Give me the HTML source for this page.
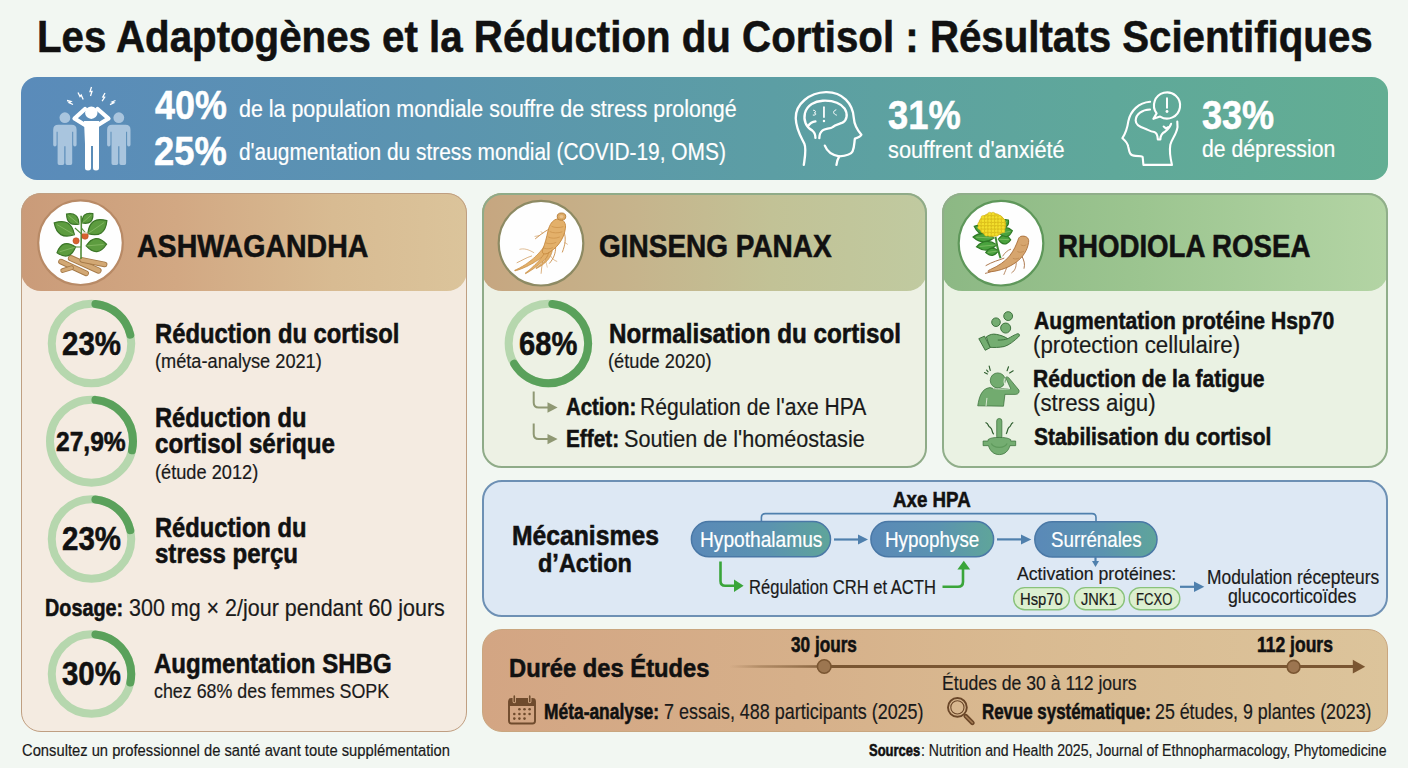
<!DOCTYPE html>
<html><head><meta charset="utf-8"><style>
*{margin:0;padding:0;box-sizing:border-box}
html,body{width:1408px;height:768px;overflow:hidden}
body{background:#f2f7f2;font-family:"Liberation Sans",sans-serif;position:relative}
.t{position:absolute;white-space:nowrap;line-height:1;transform-origin:0 0;font-variant-ligatures:none;-webkit-text-stroke:0.2px currentColor}
.t b{font-weight:700;-webkit-text-stroke:0.55px currentColor}
.box{position:absolute}
.ov{position:absolute;left:0;top:0}
</style></head>
<body>

<div class="box" style="left:20.5px;top:77px;width:1367.5px;height:103px;border-radius:16px;background:linear-gradient(90deg,#5a8bba 0%,#5b94b0 30%,#5c9ea4 55%,#5fa89a 80%,#63ae93 100%)"></div>
<div class="box" style="left:21px;top:193px;width:445.5px;height:539px;border-radius:20px;background:#f4ebe1"></div>
<div class="box" style="left:21px;top:193px;width:445.5px;height:98px;border-radius:20px;background:linear-gradient(90deg,#ca9b79 0%,#d2a883 35%,#d8bb92 70%,#dbc49b 100%)"></div>
<div class="box" style="left:21px;top:193px;width:445.5px;height:539px;border-radius:20px;border:1.8px solid #bf9f82"></div>
<div class="box" style="left:481.5px;top:193px;width:445px;height:275px;border-radius:20px;background:#edf1e4"></div>
<div class="box" style="left:481.5px;top:193px;width:445px;height:98px;border-radius:20px;background:linear-gradient(90deg,#c6a680 0%,#c6b48c 35%,#c2c296 65%,#c0caa0 100%)"></div>
<div class="box" style="left:481.5px;top:193px;width:445px;height:275px;border-radius:20px;border:2px solid #8fab88"></div>
<div class="box" style="left:941.5px;top:193px;width:446px;height:275px;border-radius:20px;background:#eaf2e3"></div>
<div class="box" style="left:941.5px;top:193px;width:446px;height:98px;border-radius:20px;background:linear-gradient(90deg,#8cb884 0%,#9cc590 45%,#abcf9d 80%,#b3d4a4 100%)"></div>
<div class="box" style="left:941.5px;top:193px;width:446px;height:275px;border-radius:20px;border:2px solid #90ae8a"></div>
<div class="box" style="left:481.5px;top:480px;width:906px;height:137px;border-radius:20px;background:#dde8f4;border:2px solid #6d90b4"></div>
<div class="box" style="left:481.5px;top:629px;width:906px;height:103px;border-radius:20px;background:linear-gradient(90deg,#d3a583 0%,#d6b08a 35%,#d9ba91 60%,#dcc49b 100%);border:1.3px solid #c9a67f"></div>

<svg class="ov" width="1408" height="768" viewBox="0 0 1408 768">
<defs>
<linearGradient id="pill" x1="0" x2="1" y1="0" y2="0"><stop offset="0" stop-color="#5a89b8"/><stop offset="0.55" stop-color="#5b93b0"/><stop offset="1" stop-color="#5fa59a"/></linearGradient>
<linearGradient id="tl" x1="0" x2="1"><stop offset="0" stop-color="#85603a" stop-opacity="0"/><stop offset="0.35" stop-color="#85603a" stop-opacity="0.45"/><stop offset="1" stop-color="#7a5632" stop-opacity="0.8"/></linearGradient>
</defs>
<!-- circles for illustrations -->
<circle cx="80.5" cy="242.7" r="42.3" fill="#fefefe" stroke="#b88a66" stroke-width="2.2"/>
<circle cx="541" cy="243.2" r="42.3" fill="#fefefe" stroke="#8d8a63" stroke-width="2.2"/>
<circle cx="1001" cy="243.2" r="42.3" fill="#fefefe" stroke="#5e975a" stroke-width="2.2"/>
<svg x="38" y="200" width="86" height="86" viewBox="0 0 768 768"><line x1="205" y1="550" x2="430" y2="655" stroke="#a67a48" stroke-width="50" stroke-linecap="round"/><line x1="205" y1="550" x2="430" y2="655" stroke="#d2a874" stroke-width="34" stroke-linecap="round"/><line x1="220" y1="630" x2="300" y2="605" stroke="#a67a48" stroke-width="42" stroke-linecap="round"/><line x1="220" y1="630" x2="300" y2="605" stroke="#d2a874" stroke-width="26" stroke-linecap="round"/><line x1="295" y1="520" x2="540" y2="630" stroke="#a67a48" stroke-width="56" stroke-linecap="round"/><line x1="295" y1="520" x2="540" y2="630" stroke="#d2a874" stroke-width="40" stroke-linecap="round"/><line x1="395" y1="535" x2="595" y2="575" stroke="#a67a48" stroke-width="50" stroke-linecap="round"/><line x1="395" y1="535" x2="595" y2="575" stroke="#d2a874" stroke-width="34" stroke-linecap="round"/><path d="M385,525 C380,430 392,330 385,140" stroke="#4f8a35" stroke-width="14" fill="none"/><path d="M385,420 L330,420 M385,300 L330,250 M388,250 L430,300" stroke="#4f8a35" stroke-width="10" fill="none"/><path d="M365,215 Q363,105 255,125 Q257,235 365,215Z" fill="#5d9c3f" stroke="#3b7527" stroke-width="11"/><path d="M365,215 L272,138" stroke="#9cc97a" stroke-width="5" fill="none"/><path d="M395,205 Q495,224 490,122 Q390,103 395,205Z" fill="#5d9c3f" stroke="#3b7527" stroke-width="11"/><path d="M395,205 L476,134" stroke="#9cc97a" stroke-width="5" fill="none"/><path d="M325,310 Q295,154 145,205 Q175,361 325,310Z" fill="#5d9c3f" stroke="#3b7527" stroke-width="11"/><path d="M325,310 L172,221" stroke="#9cc97a" stroke-width="5" fill="none"/><path d="M445,300 Q599,345 615,185 Q461,140 445,300Z" fill="#5d9c3f" stroke="#3b7527" stroke-width="11"/><path d="M445,300 L590,202" stroke="#9cc97a" stroke-width="5" fill="none"/><path d="M335,420 Q221,340 170,470 Q284,550 335,420Z" fill="#5d9c3f" stroke="#3b7527" stroke-width="11"/><path d="M335,420 L195,462" stroke="#9cc97a" stroke-width="5" fill="none"/><path d="M430,410 Q531,518 612,395 Q511,287 430,410Z" fill="#5d9c3f" stroke="#3b7527" stroke-width="11"/><path d="M430,410 L585,397" stroke="#9cc97a" stroke-width="5" fill="none"/><circle cx="340" cy="365" r="28" fill="#d8612e" stroke="#b54a20" stroke-width="5"/><circle cx="420" cy="322" r="29" fill="#d8612e" stroke="#b54a20" stroke-width="5"/><path d="M395,300 l25,-15 l25,15" fill="#f4f4e8" stroke="#c9c9b0" stroke-width="4"/></svg>
<svg x="498" y="200" width="86" height="86" viewBox="0 0 768 768"><g fill="none" stroke="#c88b45" stroke-linecap="round"><path d="M470,255 C430,270 390,300 335,345" stroke-width="8"/><path d="M370,318 L330,325 M400,298 L385,282" stroke-width="5"/><path d="M590,290 C610,340 600,400 575,465" stroke-width="8"/><path d="M597,380 L620,395" stroke-width="5"/><path d="M515,420 C515,480 495,525 460,565" stroke-width="8"/><path d="M400,540 C392,580 388,620 385,655" stroke-width="6"/><path d="M300,500 C250,515 215,540 170,560" stroke-width="6"/><path d="M320,470 C270,440 230,430 195,440" stroke-width="5"/><path d="M470,500 C480,520 500,540 525,548" stroke-width="5"/><path d="M360,560 L330,600 M420,520 L440,600" stroke-width="4"/></g><path d="M407,420 L402,429 L396,437 L389,445 L382,454 L375,463 L366,472 L358,482 L348,491 L339,500 L328,510 L318,520 L307,529 L295,539 L283,548 L271,557 L259,566 L246,575 L233,583 L219,592 L206,599 L192,607 L178,614 L164,621 L149,627 L151,633 L166,629 L182,624 L197,619 L212,613 L227,607 L242,600 L257,594 L271,587 L285,579 L299,572 L313,564 L326,556 L339,548 L351,540 L364,531 L375,523 L387,515 L398,507 L408,498 L418,490 L428,482 L437,474 L445,467 L453,460Z" fill="#e3b06a" stroke="#c4863c" stroke-width="6" stroke-linejoin="round"/><path d="M429,440 L426,449 L423,457 L419,466 L414,475 L409,484 L403,493 L397,502 L390,511 L383,521 L375,530 L367,539 L359,549 L350,558 L342,567 L332,576 L323,586 L313,594 L304,603 L294,612 L284,620 L274,629 L264,637 L254,645 L243,652 L247,658 L258,651 L269,645 L280,638 L291,631 L303,623 L314,616 L325,608 L335,600 L346,592 L357,584 L367,576 L377,567 L387,559 L397,550 L406,542 L415,533 L423,524 L432,515 L439,506 L447,497 L454,487 L460,478 L466,469 L471,460Z" fill="#e3b06a" stroke="#c4863c" stroke-width="6" stroke-linejoin="round"/><path d="M455,448 L454,456 L453,464 L452,471 L450,479 L447,486 L445,494 L442,501 L438,508 L434,515 L430,522 L426,529 L421,536 L416,542 L410,549 L404,555 L398,561 L392,567 L385,574 L378,579 L371,585 L363,591 L355,597 L347,602 L339,608 L341,612 L350,608 L359,603 L368,598 L376,593 L384,588 L392,582 L400,577 L407,571 L414,565 L421,560 L428,553 L434,547 L440,540 L446,534 L452,527 L457,519 L462,512 L466,504 L470,496 L474,488 L477,479 L480,470 L483,461 L485,452Z" fill="#e3b06a" stroke="#c4863c" stroke-width="6" stroke-linejoin="round"/><path d="M520,172 C562,158 612,190 602,252 C596,302 578,345 545,390 C515,430 480,455 440,478 C400,490 390,470 400,440 C420,390 435,330 448,270 C462,218 486,183 520,172Z" fill="#e3b06a" stroke="#c4863c" stroke-width="8"/><path d="M478,235 C505,248 545,250 585,238 M462,282 C492,296 535,298 575,284 M448,330 C478,345 515,345 552,330 M425,382 C455,395 490,392 520,378 M410,430 C440,440 470,436 490,425" stroke="#c98f48" stroke-width="6" fill="none"/><ellipse cx="567" cy="148" rx="38" ry="32" fill="#dcaa66" stroke="#b27a36" stroke-width="8"/><ellipse cx="567" cy="148" rx="18" ry="14" fill="#eac08a"/></svg>
<svg x="958" y="200" width="86" height="86" viewBox="0 0 768 768"><g fill="none" stroke="#a4693a" stroke-linecap="round"><path d="M410,520 C360,540 310,550 250,585" stroke-width="8"/><path d="M440,590 C430,620 420,640 410,665" stroke-width="7"/><path d="M520,560 C520,600 510,630 480,650" stroke-width="7"/><path d="M570,500 C590,540 600,570 590,610" stroke-width="8"/><path d="M470,440 C440,450 420,470 400,500" stroke-width="7"/><path d="M330,620 C300,640 270,650 245,655" stroke-width="8"/></g><path d="M560,325 C600,315 640,335 630,380 C620,450 580,510 520,555 C460,600 380,630 300,640 C260,645 255,635 290,620 C360,590 420,550 460,500 C500,450 520,400 535,360 C540,340 548,330 560,325Z" fill="#d6a56e" stroke="#a86e3a" stroke-width="8"/><path d="M560,400 C575,410 595,410 610,400 M530,460 C548,470 570,468 588,458 M490,520 C505,530 525,528 545,518" stroke="#b8834a" stroke-width="6" fill="none"/><path d="M335,330 C345,400 360,460 380,520" stroke="#3f8a32" stroke-width="18" fill="none"/><path d="M300,300 Q253,194 145,235 Q192,341 300,300Z" fill="#4aa33e" stroke="#2f7a26" stroke-width="11"/><path d="M300,300 L168,245" stroke="#9cc97a" stroke-width="5" fill="none"/><path d="M320,340 Q232,259 135,330 Q223,411 320,340Z" fill="#4aa33e" stroke="#2f7a26" stroke-width="11"/><path d="M320,340 L163,332" stroke="#9cc97a" stroke-width="5" fill="none"/><path d="M345,400 Q247,333 165,418 Q263,485 345,400Z" fill="#4aa33e" stroke="#2f7a26" stroke-width="11"/><path d="M345,400 L192,415" stroke="#9cc97a" stroke-width="5" fill="none"/><path d="M360,455 Q296,399 248,470 Q312,526 360,455Z" fill="#4aa33e" stroke="#2f7a26" stroke-width="11"/><path d="M360,455 L265,468" stroke="#9cc97a" stroke-width="5" fill="none"/><path d="M360,350 Q411,432 470,355 Q419,273 360,350Z" fill="#4aa33e" stroke="#2f7a26" stroke-width="11"/><path d="M360,350 L454,354" stroke="#9cc97a" stroke-width="5" fill="none"/><path d="M370,300 Q444,366 485,275 Q411,209 370,300Z" fill="#4aa33e" stroke="#2f7a26" stroke-width="11"/><path d="M370,300 L468,279" stroke="#9cc97a" stroke-width="5" fill="none"/><path d="M390,230 Q461,254 450,180 Q379,156 390,230Z" fill="#4aa33e" stroke="#2f7a26" stroke-width="11"/><path d="M390,230 L441,188" stroke="#9cc97a" stroke-width="5" fill="none"/><ellipse cx="305" cy="222" rx="122" ry="104" fill="#efd425" stroke="#c9aa1a" stroke-width="6"/><circle cx="193" cy="216" r="17" fill="#f3df2c" stroke="#c8a914" stroke-width="4"/><circle cx="193" cy="246" r="17" fill="#f3df2c" stroke="#c8a914" stroke-width="4"/><circle cx="223" cy="156" r="17" fill="#f3df2c" stroke="#c8a914" stroke-width="4"/><circle cx="223" cy="186" r="17" fill="#f3df2c" stroke="#c8a914" stroke-width="4"/><circle cx="223" cy="216" r="17" fill="#f3df2c" stroke="#c8a914" stroke-width="4"/><circle cx="223" cy="246" r="17" fill="#f3df2c" stroke="#c8a914" stroke-width="4"/><circle cx="223" cy="276" r="17" fill="#f3df2c" stroke="#c8a914" stroke-width="4"/><circle cx="253" cy="156" r="17" fill="#f3df2c" stroke="#c8a914" stroke-width="4"/><circle cx="253" cy="186" r="17" fill="#f3df2c" stroke="#c8a914" stroke-width="4"/><circle cx="253" cy="216" r="17" fill="#f3df2c" stroke="#c8a914" stroke-width="4"/><circle cx="253" cy="246" r="17" fill="#f3df2c" stroke="#c8a914" stroke-width="4"/><circle cx="253" cy="276" r="17" fill="#f3df2c" stroke="#c8a914" stroke-width="4"/><circle cx="253" cy="306" r="17" fill="#f3df2c" stroke="#c8a914" stroke-width="4"/><circle cx="283" cy="126" r="17" fill="#f3df2c" stroke="#c8a914" stroke-width="4"/><circle cx="283" cy="156" r="17" fill="#f3df2c" stroke="#c8a914" stroke-width="4"/><circle cx="283" cy="186" r="17" fill="#f3df2c" stroke="#c8a914" stroke-width="4"/><circle cx="283" cy="216" r="17" fill="#f3df2c" stroke="#c8a914" stroke-width="4"/><circle cx="283" cy="246" r="17" fill="#f3df2c" stroke="#c8a914" stroke-width="4"/><circle cx="283" cy="276" r="17" fill="#f3df2c" stroke="#c8a914" stroke-width="4"/><circle cx="283" cy="306" r="17" fill="#f3df2c" stroke="#c8a914" stroke-width="4"/><circle cx="313" cy="126" r="17" fill="#f3df2c" stroke="#c8a914" stroke-width="4"/><circle cx="313" cy="156" r="17" fill="#f3df2c" stroke="#c8a914" stroke-width="4"/><circle cx="313" cy="186" r="17" fill="#f3df2c" stroke="#c8a914" stroke-width="4"/><circle cx="313" cy="216" r="17" fill="#f3df2c" stroke="#c8a914" stroke-width="4"/><circle cx="313" cy="246" r="17" fill="#f3df2c" stroke="#c8a914" stroke-width="4"/><circle cx="313" cy="276" r="17" fill="#f3df2c" stroke="#c8a914" stroke-width="4"/><circle cx="313" cy="306" r="17" fill="#f3df2c" stroke="#c8a914" stroke-width="4"/><circle cx="343" cy="156" r="17" fill="#f3df2c" stroke="#c8a914" stroke-width="4"/><circle cx="343" cy="186" r="17" fill="#f3df2c" stroke="#c8a914" stroke-width="4"/><circle cx="343" cy="216" r="17" fill="#f3df2c" stroke="#c8a914" stroke-width="4"/><circle cx="343" cy="246" r="17" fill="#f3df2c" stroke="#c8a914" stroke-width="4"/><circle cx="343" cy="276" r="17" fill="#f3df2c" stroke="#c8a914" stroke-width="4"/><circle cx="343" cy="306" r="17" fill="#f3df2c" stroke="#c8a914" stroke-width="4"/><circle cx="373" cy="156" r="17" fill="#f3df2c" stroke="#c8a914" stroke-width="4"/><circle cx="373" cy="186" r="17" fill="#f3df2c" stroke="#c8a914" stroke-width="4"/><circle cx="373" cy="216" r="17" fill="#f3df2c" stroke="#c8a914" stroke-width="4"/><circle cx="373" cy="246" r="17" fill="#f3df2c" stroke="#c8a914" stroke-width="4"/><circle cx="373" cy="276" r="17" fill="#f3df2c" stroke="#c8a914" stroke-width="4"/><circle cx="403" cy="186" r="17" fill="#f3df2c" stroke="#c8a914" stroke-width="4"/><circle cx="403" cy="216" r="17" fill="#f3df2c" stroke="#c8a914" stroke-width="4"/><circle cx="403" cy="246" r="17" fill="#f3df2c" stroke="#c8a914" stroke-width="4"/><circle cx="403" cy="276" r="17" fill="#f3df2c" stroke="#c8a914" stroke-width="4"/></svg>
<!-- rings -->
<circle cx="91.5" cy="343.5" r="39.75" fill="none" stroke="#b6d7ae" stroke-width="8"/><circle cx="91.5" cy="343.5" r="39.75" fill="none" stroke="#5aa15b" stroke-width="8" stroke-linecap="round" stroke-dasharray="49.44 249.76" stroke-dashoffset="-4.00" transform="rotate(-90 91.5 343.5)"/>
<circle cx="91.5" cy="441.2" r="41.5" fill="none" stroke="#b6d7ae" stroke-width="8"/><circle cx="91.5" cy="441.2" r="41.5" fill="none" stroke="#5aa15b" stroke-width="8" stroke-linecap="round" stroke-dasharray="70.23 260.75" stroke-dashoffset="-4.00" transform="rotate(-90 91.5 441.2)"/>
<circle cx="91.5" cy="539" r="39.75" fill="none" stroke="#b6d7ae" stroke-width="8"/><circle cx="91.5" cy="539" r="39.75" fill="none" stroke="#5aa15b" stroke-width="8" stroke-linecap="round" stroke-dasharray="49.44 249.76" stroke-dashoffset="-4.00" transform="rotate(-90 91.5 539)"/>
<circle cx="91.5" cy="674" r="39.75" fill="none" stroke="#b6d7ae" stroke-width="8"/><circle cx="91.5" cy="674" r="39.75" fill="none" stroke="#5aa15b" stroke-width="8" stroke-linecap="round" stroke-dasharray="66.93 249.76" stroke-dashoffset="-4.00" transform="rotate(-90 91.5 674)"/>
<circle cx="548.4" cy="343.5" r="39.75" fill="none" stroke="#b6d7ae" stroke-width="8"/><circle cx="548.4" cy="343.5" r="39.75" fill="none" stroke="#5aa15b" stroke-width="8" stroke-linecap="round" stroke-dasharray="161.83 249.76" stroke-dashoffset="-4.00" transform="rotate(-90 548.4 343.5)"/>
<!-- ginseng arrows -->
<g stroke="#8f9873" stroke-width="2" fill="none"><path d="M533.7,391.5 V402.4 q0,5 5,5 H549"/><path d="M533.7,423.5 V434.1 q0,5 5,5 H549"/></g>
<g fill="#8f9873"><path d="M547.5,402.3 L557.6,407.5 L547.5,412.7Z"/><path d="M547.5,433.9 L557.6,439.1 L547.5,444.2Z"/></g>
<!-- banner icons -->
<g fill="#a9c5de"><circle cx="64.9" cy="117.7" r="5.4"/><path d="M53.2,129.8 q0,-5 5,-5 h13.4 q5,0 5,5 v15 q0,1.8 -1.7,1.8 q-1.7,0 -1.7,-1.8 v-13 h-1 v31.5 q0,1.6 -1.6,1.6 h-3.5 q-1.6,0 -1.6,-1.6 v-17 h-1.2 v17 q0,1.6 -1.6,1.6 h-3.5 q-1.6,0 -1.6,-1.6 v-31.5 h-1 v13 q0,1.8 -1.7,1.8 q-1.7,0 -1.7,-1.8 z"/></g><g fill="#a9c5de"><circle cx="118.8" cy="117.7" r="5.4"/><path d="M107.1,129.8 q0,-5 5,-5 h13.4 q5,0 5,5 v15 q0,1.8 -1.7,1.8 q-1.7,0 -1.7,-1.8 v-13 h-1 v31.5 q0,1.6 -1.6,1.6 h-3.5 q-1.6,0 -1.6,-1.6 v-17 h-1.2 v17 q0,1.6 -1.6,1.6 h-3.5 q-1.6,0 -1.6,-1.6 v-31.5 h-1 v13 q0,1.8 -1.7,1.8 q-1.7,0 -1.7,-1.8 z"/></g><circle cx="91.3" cy="112.7" r="6.2" fill="#fff"/><path d="M84,121 h15 l0,23 v24 q0,2.5 -3,2.5 q-3,0 -3,-2.5 v-22 h-2 v22 q0,2.5 -3,2.5 q-3,0 -3,-2.5 v-24z" fill="#fff"/><path d="M85,109 L74.5,118.5 L85,125 M97.6,109 L108.5,118.5 L98,125" stroke="#fff" stroke-width="4.2" stroke-linecap="round" stroke-linejoin="round" fill="none"/><g stroke="#fff" stroke-width="1.3" fill="none" stroke-linejoin="miter"><path d="M67,100.5 l4,1 l-2,1.2 l4,1.8"/><path d="M78,92.5 l2,4 l1.2,-1.5 l2,4.5"/><path d="M91.5,87 l-1.5,4.5 l2,0 l-1.5,4.5"/><path d="M105,93 l-2.2,4 l1.8,0.3 l-2.5,3.8"/><path d="M115.5,100.5 l-3.5,1.5 l1.8,0.8 l-3.8,1.8"/></g>
<svg x="785" y="85" width="85" height="85" viewBox="0 0 768 768"><g fill="none" stroke="#fff" stroke-width="21" stroke-linecap="round" stroke-linejoin="round"><path d="M170,722 C180,650 195,580 175,530 C140,460 100,400 97,300 C95,170 220,70 370,65 C520,62 615,170 622,300 C625,350 640,390 690,450 C680,470 650,480 632,485 C625,510 630,560 610,600 C595,630 540,640 490,645 C470,680 468,700 465,722"/><path d="M360,548 C380,600 430,635 490,645"/><path d="M275,478 C275,450 270,430 245,410 C190,380 165,320 180,255 C200,180 270,145 340,142 C420,138 500,160 540,215 C570,260 560,320 520,340 C480,355 450,360 430,380 C410,395 360,395 340,410 C315,430 310,460 310,480"/><path d="M210,370 C225,345 250,330 275,328"/><path d="M352,200 L352,290" stroke-width="16"/><path d="M258,228 C280,228 282,250 265,252 C285,255 285,275 255,272" stroke-width="9"/><path d="M460,225 C430,235 430,260 465,272" stroke-width="9"/></g><circle cx="352" cy="325" r="11" fill="#fff"/></svg>
<svg x="1110" y="85" width="85" height="85" viewBox="0 0 768 768"><g fill="none" stroke="#fff" stroke-width="19" stroke-linecap="round" stroke-linejoin="round"><path d="M362,152 C260,160 185,230 165,330 C158,380 150,420 112,480 C140,505 160,520 165,560 C175,610 180,640 230,640 C260,640 290,640 295,650 L302,722 L560,722 C545,660 535,600 545,540 C555,490 600,450 610,380 L608,330"/><path d="M362,222 C290,225 235,260 232,320 C232,370 290,385 320,395 C345,405 365,420 400,425 C420,430 430,460 432,492 L455,492 C455,460 470,435 500,420 C525,400 545,375 552,350"/><path d="M485,375 L505,392 L525,380"/><path d="M452.8,285.3 A118,118 0 1 0 421.2,256.5 L392,306 Z"/><path d="M515,120 L515,205" stroke-width="18"/></g><circle cx="515" cy="240" r="13" fill="#fff"/></svg>
<!-- rhodiola icons -->
<svg x="972" y="305" width="55" height="55" viewBox="0 0 768 768"><g fill="#74ad71" stroke="#386d38" stroke-width="13" stroke-linejoin="round"><circle cx="505" cy="155" r="62"/><circle cx="335" cy="240" r="60"/><circle cx="470" cy="322" r="70"/><path d="M200,445 C250,410 290,400 340,410 C400,420 450,440 500,470 C540,450 600,410 640,400 C665,400 670,430 650,445 C590,500 520,560 450,580 C380,595 300,595 250,590 Z"/><path d="M95,470 L175,435 L255,595 L185,632 Z"/><path d="M360,490 C420,490 460,485 500,470" fill="none"/></g></svg>
<svg x="972" y="360" width="55" height="55" viewBox="0 0 768 768"><g fill="#72ab6f" stroke="#386d38" stroke-width="10" stroke-linejoin="round"><circle cx="360" cy="285" r="105"/><path d="M80,640 C100,520 130,400 250,385 C300,400 350,410 420,400 C470,400 520,410 540,400 L470,245 C480,230 500,235 515,250 L655,420 C665,445 650,480 610,480 L460,480 L440,645 Z"/></g><g stroke="#e9f1e2" fill="none" stroke-linecap="round"><path d="M452,262 C440,310 455,365 525,400" stroke-width="14"/><path d="M300,398 C340,408 420,410 520,405" stroke-width="10"/><path d="M208,535 L196,640" stroke-width="12"/></g><g stroke="#2f5f2f" stroke-width="16" stroke-linecap="round" fill="none"><path d="M175,175 L215,195 M205,140 L225,165 M240,85 L255,145"/><path d="M510,95 L490,150 M575,150 L525,180"/></g></svg>
<svg x="972" y="412" width="55" height="55" viewBox="0 0 768 768"><g fill="#74ad71" stroke="#386d38" stroke-width="10" stroke-linejoin="round"><rect x="345" y="90" width="72" height="290" rx="36"/><path d="M225,385 C260,360 310,355 380,355 C450,355 500,360 540,385 L540,405 L610,405 L610,470 L530,470 C510,540 460,595 380,595 C300,595 250,540 230,470 L155,470 L155,405 L225,405 Z"/><path d="M270,440 C300,510 460,510 490,440" fill="none" stroke="#5f9a5c" stroke-width="18"/></g><g stroke="#2f5f2f" stroke-width="17" stroke-linecap="round" fill="none"><path d="M195,150 C240,170 215,195 255,215 C290,240 270,270 300,305"/><path d="M570,150 C530,170 555,195 515,215 C490,240 500,270 480,300"/></g></svg>
<!-- mechanisms diagram -->
<path d="M761.4,521.6 V517.6 q0,-4 4,-4 H1092 q4,0 4,4 V521.8" stroke="#4f80ad" stroke-width="1.6" fill="none"/>
<rect x="691.4" y="521.6" width="139.1" height="35.2" rx="17.6" fill="url(#pill)" stroke="#4a78a6" stroke-width="1.5"/>
<rect x="870.9" y="521.6" width="122.7" height="35.2" rx="17.6" fill="url(#pill)" stroke="#4a78a6" stroke-width="1.5"/>
<rect x="1034.8" y="521.8" width="122.2" height="35.2" rx="17.6" fill="url(#pill)" stroke="#4a78a6" stroke-width="1.5"/>
<g stroke="#4f80ad" stroke-width="2.2" fill="none"><path d="M834,539.5 H860"/><path d="M997,539.4 H1022"/><path d="M1180,586.8 H1196"/><path d="M1095.5,557 V562"/></g>
<g fill="#4f80ad"><path d="M858,534.5 L868,539.5 L858,544.5Z"/><path d="M1021,534.4 L1031.3,539.4 L1021,544.4Z"/><path d="M1194,581.5 L1204.3,586.8 L1194,592Z"/><path d="M1092,561 L1095.5,567 L1099,561Z"/></g>
<g stroke="#3aa53a" stroke-width="2.6" fill="none" stroke-linejoin="round"><path d="M720.5,561.4 V581 q0,4.7 4.7,4.7 H735"/><path d="M942.5,586.8 H958 q5,0 5,-5 V568"/></g>
<g fill="#3aa53a"><path d="M734,579.5 L743.6,585.7 L734,592Z"/><path d="M957.4,569.5 L963.8,560.7 L970.2,569.5Z"/></g>
<g fill="#dcefd0" stroke="#89c27a" stroke-width="1.4">
<rect x="1013.7" y="587.6" width="55.7" height="22.1" rx="11"/>
<rect x="1074.4" y="587.6" width="50" height="22.1" rx="11"/>
<rect x="1129.2" y="587.6" width="50.6" height="22.1" rx="11"/>
</g>
<!-- duration timeline -->
<rect x="729.5" y="665.2" width="90" height="2.6" fill="url(#tl)"/>
<path d="M824.3,666.6 H1356" stroke="#7a5632" stroke-width="3"/>
<path d="M1352.8,659.8 L1365.2,666.7 L1352.8,673.5Z" fill="#7a5632"/>
<circle cx="824.2" cy="666.5" r="6.8" fill="#9c7650" stroke="#7a5632" stroke-width="1.6"/>
<circle cx="1293.6" cy="666.8" r="6.4" fill="#9c7550" stroke="#7a5632" stroke-width="1.6"/>
<g fill="none" stroke="#6f4b2d" stroke-width="1.9"><rect x="509" y="699" width="26" height="24.5" rx="2.5"/></g><path d="M509,706 V701.5 q0,-2.5 2.5,-2.5 h21 q2.5,0 2.5,2.5 V706Z" fill="#6f4b2d"/><g stroke="#d9b08c" stroke-width="3.4" stroke-linecap="round"><path d="M514.3,696.5 v5 M529.7,696.5 v5"/></g><g stroke="#6f4b2d" stroke-width="1.7" stroke-linecap="round"><path d="M514.3,696 v5.5 M529.7,696 v5.5"/></g><g fill="#6f4b2d"><circle cx="519.4" cy="709.3" r="1.3"/><circle cx="524.5" cy="709.3" r="1.3"/><circle cx="529.6" cy="709.3" r="1.3"/><circle cx="514.3" cy="714" r="1.3"/><circle cx="519.4" cy="714" r="1.3"/><circle cx="524.5" cy="714" r="1.3"/><circle cx="529.6" cy="714" r="1.3"/><circle cx="514.3" cy="718.6" r="1.3"/><circle cx="519.4" cy="718.6" r="1.3"/><circle cx="524.5" cy="718.6" r="1.3"/></g>
<g fill="none" stroke="#6a4628"><circle cx="957.4" cy="707.4" r="9.4" stroke-width="1.9"/><circle cx="957.4" cy="707.4" r="6.6" stroke-width="1.1"/><path d="M965.8,716.2 L972.4,722.8" stroke-width="4.6" stroke-linecap="round"/><path d="M965.8,716.2 L972.4,722.8" stroke-width="1.6" stroke-linecap="round" stroke="#a57d55"/></g>
</svg>
<div class="t" style="left:36.81px;top:15.65px;font-size:43.53px;color:#111111;transform:scaleX(0.9248)"><b>Les Adaptogènes et la Réduction du Cortisol : Résultats Scientifiques</b></div>
<div class="t" style="left:154.84px;top:85.72px;font-size:40.26px;color:#ffffff;transform:scaleX(0.8907)"><b>40%</b></div>
<div class="t" style="left:239.15px;top:96.91px;font-size:24.32px;color:#ffffff;transform:scaleX(0.8816)">de la population mondiale souffre de stress prolongé</div>
<div class="t" style="left:153.89px;top:132.22px;font-size:40.26px;color:#ffffff;transform:scaleX(0.9024)"><b>25%</b></div>
<div class="t" style="left:239.15px;top:139.91px;font-size:24.32px;color:#ffffff;transform:scaleX(0.8590)">d'augmentation du stress mondial (COVID-19, OMS)</div>
<div class="t" style="left:888.14px;top:94.52px;font-size:40.97px;color:#ffffff;transform:scaleX(0.8866)"><b>31%</b></div>
<div class="t" style="left:888.14px;top:137.57px;font-size:24.61px;color:#ffffff;transform:scaleX(0.8839)">souffrent d'anxiété</div>
<div class="t" style="left:1202.15px;top:94.76px;font-size:40.68px;color:#ffffff;transform:scaleX(0.8869)"><b>33%</b></div>
<div class="t" style="left:1202.15px;top:137.47px;font-size:24.61px;color:#ffffff;transform:scaleX(0.8617)">de dépression</div>
<div class="t" style="left:137.23px;top:230.71px;font-size:31.29px;color:#111;transform:scaleX(0.9121)"><b>ASHWAGANDHA</b></div>
<div class="t" style="left:61.88px;top:326.88px;font-size:33.57px;color:#111;transform:scaleX(0.8784)"><b>23%</b></div>
<div class="t" style="left:154.83px;top:320.74px;font-size:26.88px;color:#111;transform:scaleX(0.8851)"><b>Réduction du cortisol</b></div>
<div class="t" style="left:154.56px;top:350.86px;font-size:20.48px;color:#1a1a1a;transform:scaleX(0.8884)">(méta-analyse 2021)</div>
<div class="t" style="left:56.36px;top:427.50px;font-size:27.17px;color:#111;transform:scaleX(0.9056)"><b>27,9%</b></div>
<div class="t" style="left:154.83px;top:404.84px;font-size:26.88px;color:#111;transform:scaleX(0.8817)"><b>Réduction du</b></div>
<div class="t" style="left:154.70px;top:431.34px;font-size:26.88px;color:#111;transform:scaleX(0.8985)"><b>cortisol sérique</b></div>
<div class="t" style="left:154.56px;top:462.26px;font-size:20.48px;color:#1a1a1a;transform:scaleX(0.8894)">(étude 2012)</div>
<div class="t" style="left:61.88px;top:522.48px;font-size:33.57px;color:#111;transform:scaleX(0.8784)"><b>23%</b></div>
<div class="t" style="left:154.83px;top:514.94px;font-size:26.88px;color:#111;transform:scaleX(0.8817)"><b>Réduction du</b></div>
<div class="t" style="left:154.63px;top:541.44px;font-size:26.88px;color:#111;transform:scaleX(0.8948)"><b>stress perçu</b></div>
<div class="t" style="left:45.20px;top:595.75px;font-size:24.04px;color:#111;transform:scaleX(0.8236)"><b>Dosage:</b></div>
<div class="t" style="left:128.50px;top:595.85px;font-size:24.04px;color:#1a1a1a;transform:scaleX(0.8937)">300 mg × 2/jour pendant 60 jours</div>
<div class="t" style="left:61.94px;top:657.48px;font-size:33.57px;color:#111;transform:scaleX(0.8764)"><b>30%</b></div>
<div class="t" style="left:154.17px;top:650.36px;font-size:27.45px;color:#111;transform:scaleX(0.8756)"><b>Augmentation SHBG</b></div>
<div class="t" style="left:154.11px;top:680.94px;font-size:20.63px;color:#1a1a1a;transform:scaleX(0.8654)">chez 68% des femmes SOPK</div>
<div class="t" style="left:598.81px;top:230.71px;font-size:31.29px;color:#111;transform:scaleX(0.8945)"><b>GINSENG PANAX</b></div>
<div class="t" style="left:518.85px;top:327.44px;font-size:33.14px;color:#111;transform:scaleX(0.8796)"><b>68%</b></div>
<div class="t" style="left:608.73px;top:320.86px;font-size:26.74px;color:#111;transform:scaleX(0.9057)"><b>Normalisation du cortisol</b></div>
<div class="t" style="left:608.36px;top:350.84px;font-size:20.63px;color:#1a1a1a;transform:scaleX(0.8845)">(étude 2020)</div>
<div class="t" style="left:566.40px;top:395.39px;font-size:23.76px;color:#111;transform:scaleX(0.8586)"><b>Action:</b></div>
<div class="t" style="left:639.85px;top:395.39px;font-size:23.76px;color:#1a1a1a;transform:scaleX(0.8879)">Régulation de l'axe HPA</div>
<div class="t" style="left:566.20px;top:427.29px;font-size:23.76px;color:#111;transform:scaleX(0.8747)"><b>Effet:</b></div>
<div class="t" style="left:624.35px;top:427.29px;font-size:23.76px;color:#1a1a1a;transform:scaleX(0.9097)">Soutien de l'homéostasie</div>
<div class="t" style="left:1057.82px;top:230.71px;font-size:31.29px;color:#111;transform:scaleX(0.8836)"><b>RHODIOLA ROSEA</b></div>
<div class="t" style="left:1033.69px;top:308.73px;font-size:24.18px;color:#111;transform:scaleX(0.8735)"><b>Augmentation protéine Hsp70</b></div>
<div class="t" style="left:1032.78px;top:332.53px;font-size:24.18px;color:#1a1a1a;transform:scaleX(0.9234)">(protection cellulaire)</div>
<div class="t" style="left:1033.49px;top:367.03px;font-size:24.18px;color:#111;transform:scaleX(0.8704)"><b>Réduction de la fatigue</b></div>
<div class="t" style="left:1032.78px;top:390.73px;font-size:24.18px;color:#1a1a1a;transform:scaleX(0.9220)">(stress aigu)</div>
<div class="t" style="left:1033.58px;top:425.43px;font-size:24.18px;color:#111;transform:scaleX(0.8664)"><b>Stabilisation du cortisol</b></div>
<div class="t" style="left:511.52px;top:522.56px;font-size:26.74px;color:#111;transform:scaleX(0.9237)"><b>Mécanismes</b></div>
<div class="t" style="left:537.79px;top:549.58px;font-size:26.60px;color:#111;transform:scaleX(0.8833)"><b>d’Action</b></div>
<div class="t" style="left:893.30px;top:488.60px;font-size:22.33px;color:#111;transform:scaleX(0.8381)"><b>Axe HPA</b></div>
<div class="t" style="left:699.89px;top:528.62px;font-size:22.19px;color:#ffffff;transform:scaleX(0.8628)">Hypothalamus</div>
<div class="t" style="left:884.90px;top:528.62px;font-size:22.19px;color:#ffffff;transform:scaleX(0.8495)">Hypophyse</div>
<div class="t" style="left:1050.57px;top:528.62px;font-size:22.19px;color:#ffffff;transform:scaleX(0.8445)">Surrénales</div>
<div class="t" style="left:749.02px;top:577.20px;font-size:20.20px;color:#1a1a1a;transform:scaleX(0.8205)">Régulation CRH et ACTH</div>
<div class="t" style="left:1016.88px;top:564.34px;font-size:19.20px;color:#1a1a1a;transform:scaleX(0.9210)">Activation protéines:</div>
<div class="t" style="left:1020.19px;top:591.51px;font-size:15.93px;color:#1a1a1a;transform:scaleX(0.9309)">Hsp70</div>
<div class="t" style="left:1081.19px;top:591.51px;font-size:15.93px;color:#1a1a1a;transform:scaleX(0.9175)">JNK1</div>
<div class="t" style="left:1135.84px;top:591.51px;font-size:15.93px;color:#1a1a1a;transform:scaleX(0.8247)">FCXO</div>
<div class="t" style="left:1206.93px;top:567.58px;font-size:19.63px;color:#1a1a1a;transform:scaleX(0.8872)">Modulation récepteurs</div>
<div class="t" style="left:1228.30px;top:586.92px;font-size:19.35px;color:#1a1a1a;transform:scaleX(0.9178)">glucocorticoïdes</div>
<div class="t" style="left:508.83px;top:655.16px;font-size:26.03px;color:#111;transform:scaleX(0.9123)"><b>Durée des Études</b></div>
<div class="t" style="left:791.13px;top:634.64px;font-size:21.34px;color:#111;transform:scaleX(0.8061)"><b>30 jours</b></div>
<div class="t" style="left:1256.78px;top:634.64px;font-size:21.34px;color:#111;transform:scaleX(0.8209)"><b>112 jours</b></div>
<div class="t" style="left:942.23px;top:672.76px;font-size:20.48px;color:#1a1a1a;transform:scaleX(0.8606)">Études de 30 à 112 jours</div>
<div class="t" style="left:544.20px;top:700.66px;font-size:21.19px;color:#111;transform:scaleX(0.8211)"><b>Méta-analyse:</b></div>
<div class="t" style="left:663.74px;top:700.66px;font-size:21.19px;color:#1a1a1a;transform:scaleX(0.8477)">7 essais, 488 participants (2025)</div>
<div class="t" style="left:982.01px;top:700.66px;font-size:21.19px;color:#111;transform:scaleX(0.7967)"><b>Revue systématique:</b></div>
<div class="t" style="left:1154.55px;top:700.66px;font-size:21.19px;color:#1a1a1a;transform:scaleX(0.8394)">25 études, 9 plantes (2023)</div>
<div class="t" style="left:21.90px;top:742.23px;font-size:17.21px;color:#1a1a1a;transform:scaleX(0.8580)">Consultez un professionnel de santé avant toute supplémentation</div>
<div class="t" style="left:869.14px;top:742.61px;font-size:16.64px;color:#111;transform:scaleX(0.7807)"><b>Sources</b></div>
<div class="t" style="left:920.86px;top:742.61px;font-size:16.64px;color:#1a1a1a;transform:scaleX(0.8470)">: Nutrition and Health 2025, Journal of Ethnopharmacology, Phytomedicine</div>
</body></html>
